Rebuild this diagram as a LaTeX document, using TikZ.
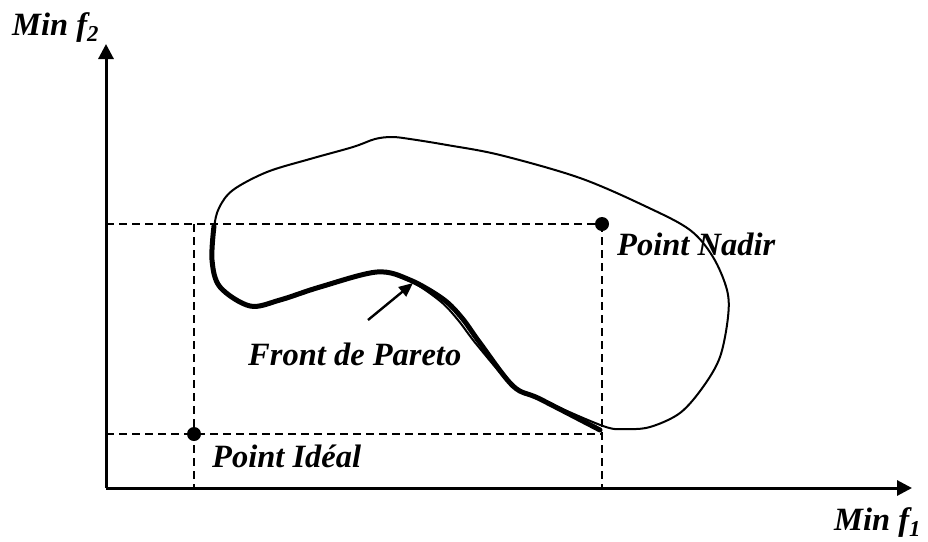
\documentclass[tikz,border=0pt]{standalone}
\usepackage{fontspec}
\setmainfont{Liberation Serif}
\usetikzlibrary{arrows.meta}
\begin{document}
\begin{tikzpicture}[x=1pt,y=-1pt,
  axis/.style={line width=3pt,-{Triangle[length=15pt,width=15pt]}},
  guide/.style={line width=1.8pt,dash pattern=on 8pt off 5pt},
  outline/.style={line width=2pt},
  front/.style={line width=5pt,line cap=round,line join=round},
  pointer/.style={line width=2.4pt,-{Triangle[length=14pt,width=12pt]}},
  dot/.style={circle,fill=black,inner sep=0pt,minimum size=14pt},
  lbl/.style={inner sep=0pt,anchor=base west,font=\fontsize{32.5}{38}\selectfont\bfseries\itshape}]
\useasboundingbox (0,0) rectangle (928,541);

% axes
\coordinate (O) at (106,488);
\coordinate (ytip) at (106,44);
\coordinate (xtip) at (912,488);
\draw[axis] (O) -- (ytip);
\draw[axis] (O) -- (xtip);
\node[lbl] (ylab) at (12,35) {Min f\textsubscript{2}};
\node[lbl] (xlab) at (834,530) {Min f\textsubscript{1}};

% ideal and nadir points with their guide lines
\node[dot] (ideal) at (194,434) {};
\node[dot] (nadir) at (602,224) {};
\draw[guide] (O |- nadir) -- (nadir.center);
\draw[guide] (O |- ideal) -- (ideal.center) -- (nadir.center |- ideal);
\draw[guide] (ideal.center |- nadir) -- (ideal.center |- O);
\draw[guide] (nadir.center) -- (nadir.center |- O);
\node[lbl] (nadirlab) at (617,255) {Point Nadir};
\node[lbl] (ideallab) at (212,467) {Point Idéal};

% feasible region
\draw[outline] plot[smooth cycle, tension=0.55] coordinates {
  (214,228) (219,208) (233,190) (267,172) (310,159) (353,147) (375,139)
  (392,137) (410,139) (447,145) (500,155) (580,178) (647,207) (690,230)
  (713,257) (727,290) (728,317) (720,357) (703,387) (680,413) (650,427)
  (625,429) (603,426) (540,399) (513,386) (477,345) (458,320) (440,301)
  (410,281) (377,272) (320,287) (280,300) (250,306) (220,287) (212,260)};

% Pareto front
\draw[front] plot[smooth, tension=0.55] coordinates {
  (214,226) (212,260) (220,287) (250,306) (280,300) (320,287) (377,272)
  (410,280) (443,299) (462,318) (480,343) (513,386) (540,399) (600,430)};

\coordinate (ptail) at (368,320);
\coordinate (phead) at (413,283);
\draw[pointer] (ptail) -- (phead);
\node[lbl] (frontlab) at (248,365) {Front de Pareto};
\end{tikzpicture}
\end{document}
